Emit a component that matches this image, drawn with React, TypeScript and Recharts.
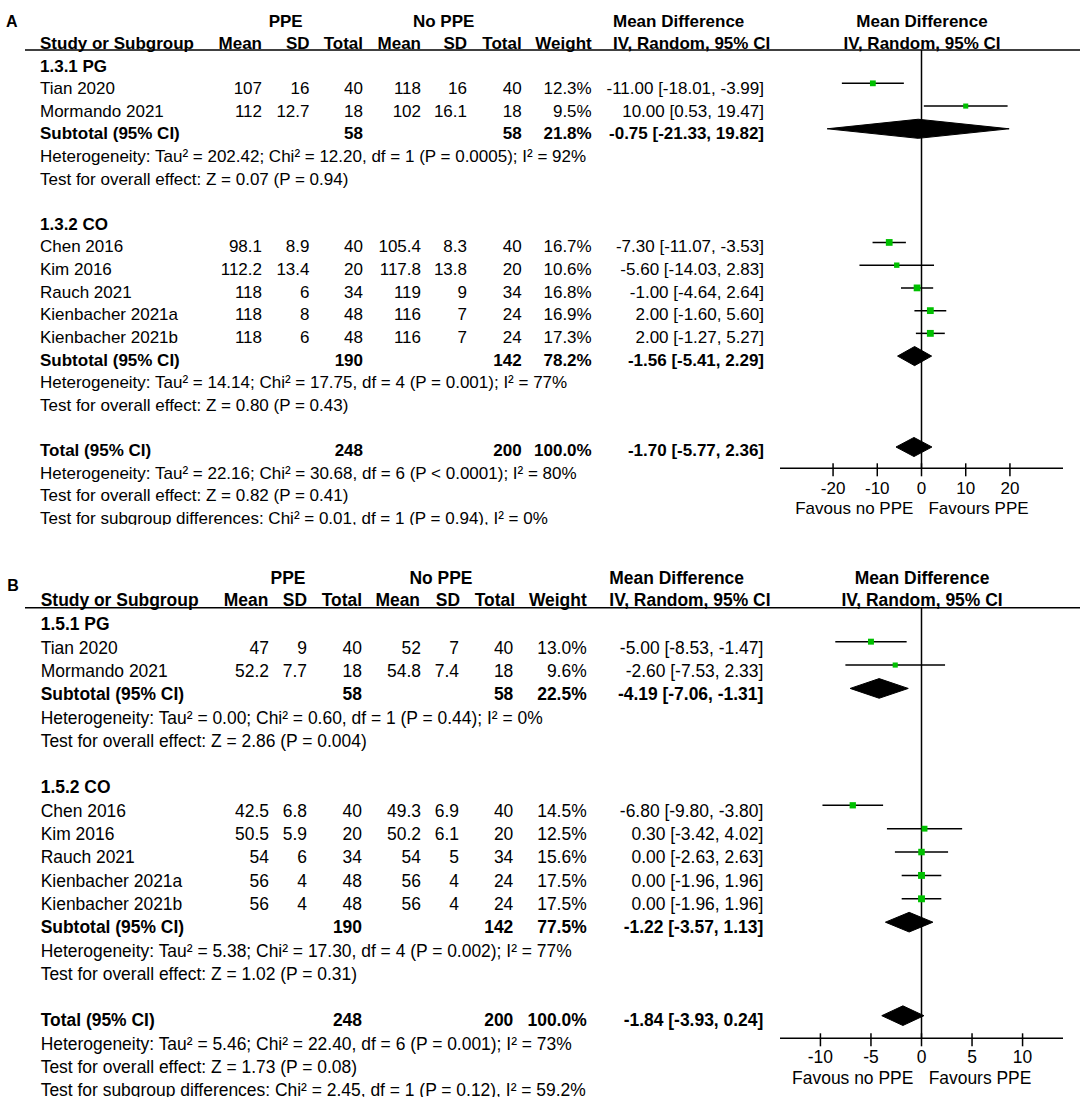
import React from "react";
import { ScatterChart, Scatter, ErrorBar, XAxis, YAxis, ReferenceLine } from "recharts";

const FONT = '"Liberation Sans", Arial, Helvetica, sans-serif';
const GREEN = "#00c000";

// same seven trials in both outcomes
const studies = ["Tian 2020", "Mormando 2021", "Chen 2016", "Kim 2016", "Rauch 2021", "Kienbacher 2021a", "Kienbacher 2021b"];
const studyRows = [1, 2, 8, 9, 10, 11, 12];
const ppeN = [40, 18, 40, 20, 34, 48, 48];
const noPpeN = [40, 18, 40, 20, 34, 24, 24];

const pooledLabels = ["Subtotal (95% CI)", "Subtotal (95% CI)", "Total (95% CI)"];
const pooledRows = [3, 13, 17];
const pooledPpeN = [58, 190, 248];
const pooledNoPpeN = [58, 142, 200];

const subgroupRows = [0, 7];
const noteRows = [4, 5, 14, 15, 18, 19, 20];

// ---- panel A ----
const subgroupsA = ["1.3.1 PG", "1.3.2 CO"];
const ppeMeanA = ["107", "112", "98.1", "112.2", "118", "118", "118"];
const ppeSdA = ["16", "12.7", "8.9", "13.4", "6", "8", "6"];
const noMeanA = ["118", "102", "105.4", "117.8", "119", "116", "116"];
const noSdA = ["16", "16.1", "8.3", "13.8", "9", "7", "7"];
const weightA = [12.3, 9.5, 16.7, 10.6, 16.8, 16.9, 17.3];
const mdA = [-11.0, 10.0, -7.3, -5.6, -1.0, 2.0, 2.0];
const loA = [-18.01, 0.53, -11.07, -14.03, -4.64, -1.6, -1.27];
const hiA = [-3.99, 19.47, -3.53, 2.83, 2.64, 5.6, 5.27];
const pooledWeightA = [21.8, 78.2, 100.0];
const pooledMdA = [-0.75, -1.56, -1.7];
const pooledLoA = [-21.33, -5.41, -5.77];
const pooledHiA = [19.82, 2.29, 2.36];
const notesA = [
  "Heterogeneity: Tau² = 202.42; Chi² = 12.20, df = 1 (P = 0.0005); I² = 92%",
  "Test for overall effect: Z = 0.07 (P = 0.94)",
  "Heterogeneity: Tau² = 14.14; Chi² = 17.75, df = 4 (P = 0.001); I² = 77%",
  "Test for overall effect: Z = 0.80 (P = 0.43)",
  "Heterogeneity: Tau² = 22.16; Chi² = 30.68, df = 6 (P < 0.0001); I² = 80%",
  "Test for overall effect: Z = 0.82 (P = 0.41)",
  "Test for subgroup differences: Chi² = 0.01, df = 1 (P = 0.94), I² = 0%",
];
const domainA = [-32, 32];
const ticksA = [-20, -10, 0, 10, 20];

// ---- panel B ----
const subgroupsB = ["1.5.1 PG", "1.5.2 CO"];
const ppeMeanB = ["47", "52.2", "42.5", "50.5", "54", "56", "56"];
const ppeSdB = ["9", "7.7", "6.8", "5.9", "6", "4", "4"];
const noMeanB = ["52", "54.8", "49.3", "50.2", "54", "56", "56"];
const noSdB = ["7", "7.4", "6.9", "6.1", "5", "4", "4"];
const weightB = [13.0, 9.6, 14.5, 12.5, 15.6, 17.5, 17.5];
const mdB = [-5.0, -2.6, -6.8, 0.3, 0.0, 0.0, 0.0];
const loB = [-8.53, -7.53, -9.8, -3.42, -2.63, -1.96, -1.96];
const hiB = [-1.47, 2.33, -3.8, 4.02, 2.63, 1.96, 1.96];
const pooledWeightB = [22.5, 77.5, 100.0];
const pooledMdB = [-4.19, -1.22, -1.84];
const pooledLoB = [-7.06, -3.57, -3.93];
const pooledHiB = [-1.31, 1.13, 0.24];
const notesB = [
  "Heterogeneity: Tau² = 0.00; Chi² = 0.60, df = 1 (P = 0.44); I² = 0%",
  "Test for overall effect: Z = 2.86 (P = 0.004)",
  "Heterogeneity: Tau² = 5.38; Chi² = 17.30, df = 4 (P = 0.002); I² = 77%",
  "Test for overall effect: Z = 1.02 (P = 0.31)",
  "Heterogeneity: Tau² = 5.46; Chi² = 22.40, df = 6 (P = 0.001); I² = 73%",
  "Test for overall effect: Z = 1.73 (P = 0.08)",
  "Test for subgroup differences: Chi² = 2.45, df = 1 (P = 0.12), I² = 59.2%",
];
const domainB = [-14, 14];
const ticksB = [-10, -5, 0, 5, 10];

const fmt = (v: number) => v.toFixed(2);
const ciText = (m: number, l: number, h: number) => `${fmt(m)} [${fmt(l)}, ${fmt(h)}]`;

// page geometry (global px) for each panel
const geoA = {
  top: 0, height: 525, fs: 17, letterFs: 16,
  letterX: 6, letterY: 21.7, head1: 20.8, head2: 43, rule: 50,
  ppeX: 285.7, noPpeX: 443.7, mdHeadX: 613, studyX: 40,
  hdrEnds: [262, 309.5, 363, 421, 467, 521.7, 591.7],
  colEnds: [262, 309.5, 363, 421, 467, 521.7, 591.7, 764],
  row0: 65.5, rowH: 22.62,
  fRow0: 60.6, fRowH: 22.73, axisY: 468.3, tickY: 487.5, favY: 507.5, favL: 854.3, favR: 978.5,
};
const geoB = {
  top: 555, height: 542, fs: 17.45, letterFs: 16,
  letterX: 7.3, letterY: 585.7, head1: 577.5, head2: 600, rule: 607.7,
  ppeX: 288, noPpeX: 441, mdHeadX: 609.3, studyX: 40.7,
  hdrEnds: [268.3, 307, 362, 420, 460, 515, 586.7],
  colEnds: [269, 307, 362, 421, 459, 513.3, 586.7, 763.3],
  row0: 624.2, rowH: 23.3,
  fRow0: 618.3, fRowH: 23.375, axisY: 1038.3, tickY: 1056.7, favY: 1078.3, favL: 852.7, favR: 980,
};

const renderSquare = (p: any) => {
  const s = 1.65 * Math.sqrt(p.payload.w);
  return <rect x={p.cx - s / 2} y={p.cy - s / 2} width={s} height={s} fill={GREEN} />;
};
const renderNothing = () => <g />;

function Panel({ g, d }: { g: typeof geoA; d: any }) {
  const fs = g.fs;
  const T = ({ x, cy, anchor = "start", bold = false, size = fs, children }: any) => (
    <text
      x={x}
      y={cy - g.top + size * 0.355}
      textAnchor={anchor}
      fontWeight={bold ? "bold" : "normal"}
      fontSize={size}
      fontFamily={FONT}
      fill="#000"
    >
      {children}
    </text>
  );
  const rowY = (r: number) => g.row0 + g.rowH * r;
  const c = g.colEnds;

  const studyPts = studies.map((_, i) => ({
    x: d.md[i],
    y: studyRows[i],
    err: [d.md[i] - d.lo[i], d.hi[i] - d.md[i]],
    w: d.weight[i],
  }));
  const h = 0.42;
  const diamonds = pooledRows.map((r, i) => [
    { x: d.pLo[i], y: r },
    { x: d.pMd[i], y: r - h },
    { x: d.pHi[i], y: r },
    { x: d.pMd[i], y: r + h },
    { x: d.pLo[i], y: r },
  ]);

  const yDomain = [(g.rule - g.fRow0) / g.fRowH, (g.axisY - g.fRow0) / g.fRowH];
  const labelDy = g.tickY - g.axisY;
  const renderTick = (p: any) => (
    <g>
      <line x1={p.x} x2={p.x} y1={p.y - 5} y2={p.y + 8} stroke="#000" strokeWidth={1.5} />
      <text x={p.x} y={p.y + labelDy + fs * 0.355} textAnchor="middle" fontSize={fs} fontFamily={FONT} fill="#000">
        {p.payload.value}
      </text>
    </g>
  );

  return (
    <div style={{ position: "absolute", left: 0, top: g.top, width: 1084, height: g.height, overflow: "hidden" }}>
      <div style={{ position: "absolute", left: 0, top: 0 }}>
        <ScatterChart
          width={1084}
          height={g.height}
          margin={{ top: g.rule - g.top, left: 780, right: 21, bottom: g.height - (g.axisY - g.top) - 30 }}
        >
          <XAxis
            type="number"
            dataKey="x"
            domain={d.domain}
            ticks={d.ticks}
            interval={0}
            allowDataOverflow
            height={30}
            axisLine={{ stroke: "#000", strokeWidth: 1.5 }}
            tickLine={false}
            tickSize={0}
            tickMargin={0}
            tick={renderTick}
          />
          <YAxis type="number" dataKey="y" hide width={0} reversed domain={yDomain} allowDataOverflow />
          <ReferenceLine x={0} stroke="#000" strokeWidth={1.5} />
          <Scatter data={studyPts} shape={renderSquare} isAnimationActive={false}>
            <ErrorBar dataKey="err" direction="x" width={0} stroke="#000" strokeWidth={1.5} />
          </Scatter>
          {diamonds.map((pts, i) => (
            <Scatter
              key={i}
              data={pts}
              line={{ fill: "#000", stroke: "#000", strokeWidth: 1 }}
              shape={renderNothing}
              isAnimationActive={false}
            />
          ))}
        </ScatterChart>
      </div>
      <svg width={1084} height={g.height} style={{ position: "absolute", left: 0, top: 0 }}>
        {/* header */}
        <T x={g.letterX} cy={g.letterY} bold size={g.letterFs}>{d.letter}</T>
        <T x={g.ppeX} cy={g.head1} anchor="middle" bold>PPE</T>
        <T x={g.noPpeX} cy={g.head1} anchor="middle" bold>No PPE</T>
        <T x={g.mdHeadX} cy={g.head1} bold>Mean Difference</T>
        <T x={922} cy={g.head1} anchor="middle" bold>Mean Difference</T>
        <T x={g.studyX} cy={g.head2} bold>Study or Subgroup</T>
        {["Mean", "SD", "Total", "Mean", "SD", "Total", "Weight"].map((s, i) => (
          <T key={i} x={g.hdrEnds[i]} cy={g.head2} anchor="end" bold>{s}</T>
        ))}
        <T x={g.mdHeadX} cy={g.head2} bold>IV, Random, 95% CI</T>
        <T x={922} cy={g.head2} anchor="middle" bold>IV, Random, 95% CI</T>
        <line x1={25} x2={1080} y1={g.rule - g.top} y2={g.rule - g.top} stroke="#000" strokeWidth={1.6} />

        {d.subgroups.map((s: string, i: number) => (
          <T key={"s" + i} x={g.studyX} cy={rowY(subgroupRows[i])} bold>{s}</T>
        ))}
        {studies.map((s, i) => {
          const y = rowY(studyRows[i]);
          return (
            <g key={"r" + i}>
              <T x={g.studyX} cy={y}>{s}</T>
              <T x={c[0]} cy={y} anchor="end">{d.ppeMean[i]}</T>
              <T x={c[1]} cy={y} anchor="end">{d.ppeSd[i]}</T>
              <T x={c[2]} cy={y} anchor="end">{ppeN[i]}</T>
              <T x={c[3]} cy={y} anchor="end">{d.noMean[i]}</T>
              <T x={c[4]} cy={y} anchor="end">{d.noSd[i]}</T>
              <T x={c[5]} cy={y} anchor="end">{noPpeN[i]}</T>
              <T x={c[6]} cy={y} anchor="end">{d.weight[i].toFixed(1)}%</T>
              <T x={c[7]} cy={y} anchor="end">{ciText(d.md[i], d.lo[i], d.hi[i])}</T>
            </g>
          );
        })}
        {pooledLabels.map((s, i) => {
          const y = rowY(pooledRows[i]);
          return (
            <g key={"p" + i}>
              <T x={g.studyX} cy={y} bold>{s}</T>
              <T x={c[2]} cy={y} anchor="end" bold>{pooledPpeN[i]}</T>
              <T x={c[5]} cy={y} anchor="end" bold>{pooledNoPpeN[i]}</T>
              <T x={c[6]} cy={y} anchor="end" bold>{d.pWeight[i].toFixed(1)}%</T>
              <T x={c[7]} cy={y} anchor="end" bold>{ciText(d.pMd[i], d.pLo[i], d.pHi[i])}</T>
            </g>
          );
        })}
        {d.notes.map((s: string, i: number) => (
          <T key={"n" + i} x={g.studyX} cy={rowY(noteRows[i])}>{s}</T>
        ))}

        <T x={g.favL} cy={g.favY} anchor="middle">Favous no PPE</T>
        <T x={g.favR} cy={g.favY} anchor="middle">Favours PPE</T>
      </svg>
    </div>
  );
}

const dataA = {
  letter: "A", subgroups: subgroupsA, ppeMean: ppeMeanA, ppeSd: ppeSdA, noMean: noMeanA, noSd: noSdA,
  weight: weightA, md: mdA, lo: loA, hi: hiA,
  pWeight: pooledWeightA, pMd: pooledMdA, pLo: pooledLoA, pHi: pooledHiA,
  notes: notesA, domain: domainA, ticks: ticksA,
};
const dataB = {
  letter: "B", subgroups: subgroupsB, ppeMean: ppeMeanB, ppeSd: ppeSdB, noMean: noMeanB, noSd: noSdB,
  weight: weightB, md: mdB, lo: loB, hi: hiB,
  pWeight: pooledWeightB, pMd: pooledMdB, pLo: pooledLoB, pHi: pooledHiB,
  notes: notesB, domain: domainB, ticks: ticksB,
};

export default function App() {
  return (
    <div style={{ position: "absolute", left: 0, top: 0, width: 1084, height: 1102, background: "#fff" }}>
      <Panel g={geoA} d={dataA} />
      <Panel g={geoB} d={dataB} />
    </div>
  );
}
